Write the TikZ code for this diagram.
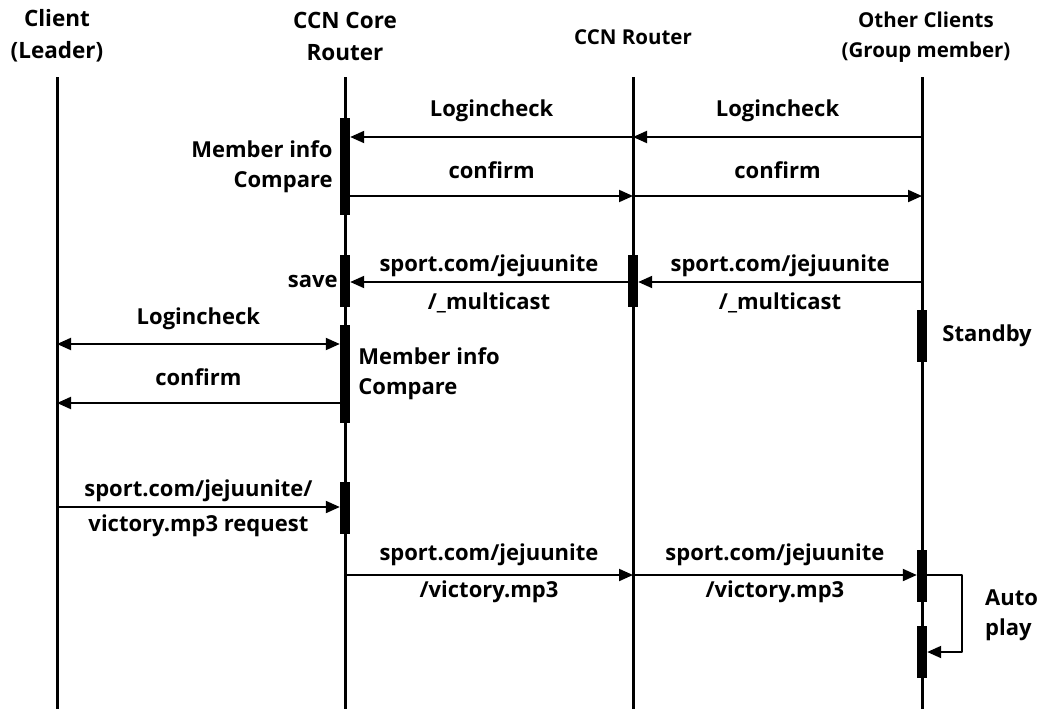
\documentclass[tikz,border=0pt]{standalone}
\usepackage{fontspec}
\setmainfont{Open Sans}
\usetikzlibrary{arrows.meta}
\begin{document}
\begin{tikzpicture}[x=1pt, y=-1pt, line join=round, >={Triangle[length=14pt,width=12pt]},
  life/.style={line width=3pt},
  bar/.style={fill=black, minimum width=10pt, inner sep=0pt},
  msg/.style={line width=2pt, ->},
  lbl/.style={font=\bfseries\fontsize{22}{30}\selectfont, inner sep=0pt, text height=16pt, text depth=5pt},
  head/.style={font=\bfseries\fontsize{22.5}{32}\selectfont, inner sep=0pt, align=center},
  bhead/.style={font=\bfseries\fontsize{20.5}{30}\selectfont, inner sep=0pt, align=center}]
\useasboundingbox (0,0) rectangle (1040,709);
% lifelines
\node[head] (leader) at (57,36) {Client\\(Leader)};
\node[head] (core) at (345,36) {CCN Core\\Router};
\node[bhead] (ccn) at (633,37) {CCN Router};
\node[bhead] (other) at (926,37) {Other Clients\\(Group member)};
\foreach \n/\x in {leader/57, core/345, ccn/633, other/922}{
  \coordinate (lf-\n-top) at (\x,77);
  \coordinate (lf-\n-bot) at (\x,709);
  \draw[life] (lf-\n-top) -- (lf-\n-bot);
}
% activation bars
\node[bar, minimum height=97pt] (act1) at (345,166.5) {};
\node[bar, minimum height=52pt] (act2) at (345,281) {};
\node[bar, minimum height=52pt] (act3) at (633,281) {};
\node[bar, minimum height=98pt] (act4) at (345,374) {};
\node[bar, minimum height=52pt] (act5) at (345,507.5) {};
\node[bar, minimum height=52pt] (act6) at (922,336) {};
\node[bar, minimum height=52pt] (act7) at (922,576) {};
\node[bar, minimum height=52pt] (act8) at (922,652) {};
% message points
\coordinate (o1) at (922,137); \coordinate (r1) at (633,137);
\coordinate (o2) at (922,196); \coordinate (r2) at (633,196);
\coordinate (o3) at (922,282);
\coordinate (l4) at (57,344);
\coordinate (l5) at (57,403);
\coordinate (l6) at (57,507);
\coordinate (c7) at (345,575); \coordinate (r7) at (633,575);
\coordinate (a1) at (962,575);
% messages
\draw[msg] (o1) -- (r1) node[lbl, midway, above=15pt]{Logincheck};
\draw[msg] (r1) -- (r1 -| act1.east) node[lbl, midway, above=15pt]{Logincheck};
\draw[msg] (r2 -| act1.east) -- (r2) node[lbl, midway, above=12pt]{confirm};
\draw[msg] (r2) -- (o2) node[lbl, midway, above=12pt]{confirm};
\draw[msg] (o3) -- (o3 -| act3.east)
  node[lbl, midway, above=5pt]{sport.com/jejuunite}
  node[lbl, midway, below=10pt]{/\_multicast};
\draw[msg] (act3.west |- o3) -- (o3 -| act2.east)
  node[lbl, midway, above=5pt]{sport.com/jejuunite}
  node[lbl, midway, below=10pt]{/\_multicast};
\draw[msg, <->] (l4) -- (l4 -| act4.west) node[lbl, midway, above=14pt]{Logincheck};
\draw[msg] (l5 -| act4.west) -- (l5) node[lbl, midway, above=12pt]{confirm};
\draw[msg] (l6) -- (l6 -| act5.west)
  node[lbl, midway, above=5pt]{sport.com/jejuunite/}
  node[lbl, midway, below=7pt]{victory.mp3 request};
\draw[msg] (c7) -- (r7)
  node[lbl, midway, above=9pt]{sport.com/jejuunite}
  node[lbl, midway, below=5pt]{/victory.mp3};
\draw[msg] (r7) -- (r7 -| act7.west)
  node[lbl, midway, above=9pt]{sport.com/jejuunite}
  node[lbl, midway, below=5pt]{/victory.mp3};
\draw[msg] (r7 -| act7.east) -- (a1) |- (act8.east);
% side notes
\node[lbl, align=right, anchor=east, text height=, text depth=] (cmp1) at ([xshift=-7pt]act1.west) {Member info\\Compare};
\node[lbl, anchor=east, text height=, text depth=] (save) at ([xshift=-2pt]act2.west) {save};
\node[lbl, align=left, anchor=west, text height=, text depth=] (cmp2) at ([xshift=8pt]act4.east) {Member info\\Compare};
\node[lbl, anchor=west, text height=, text depth=] (stby) at ([xshift=15pt]act6.east) {Standby};
\node[lbl, align=left, anchor=west, text height=, text depth=] (auto) at (985,615) {Auto\\play};
\end{tikzpicture}
\end{document}
